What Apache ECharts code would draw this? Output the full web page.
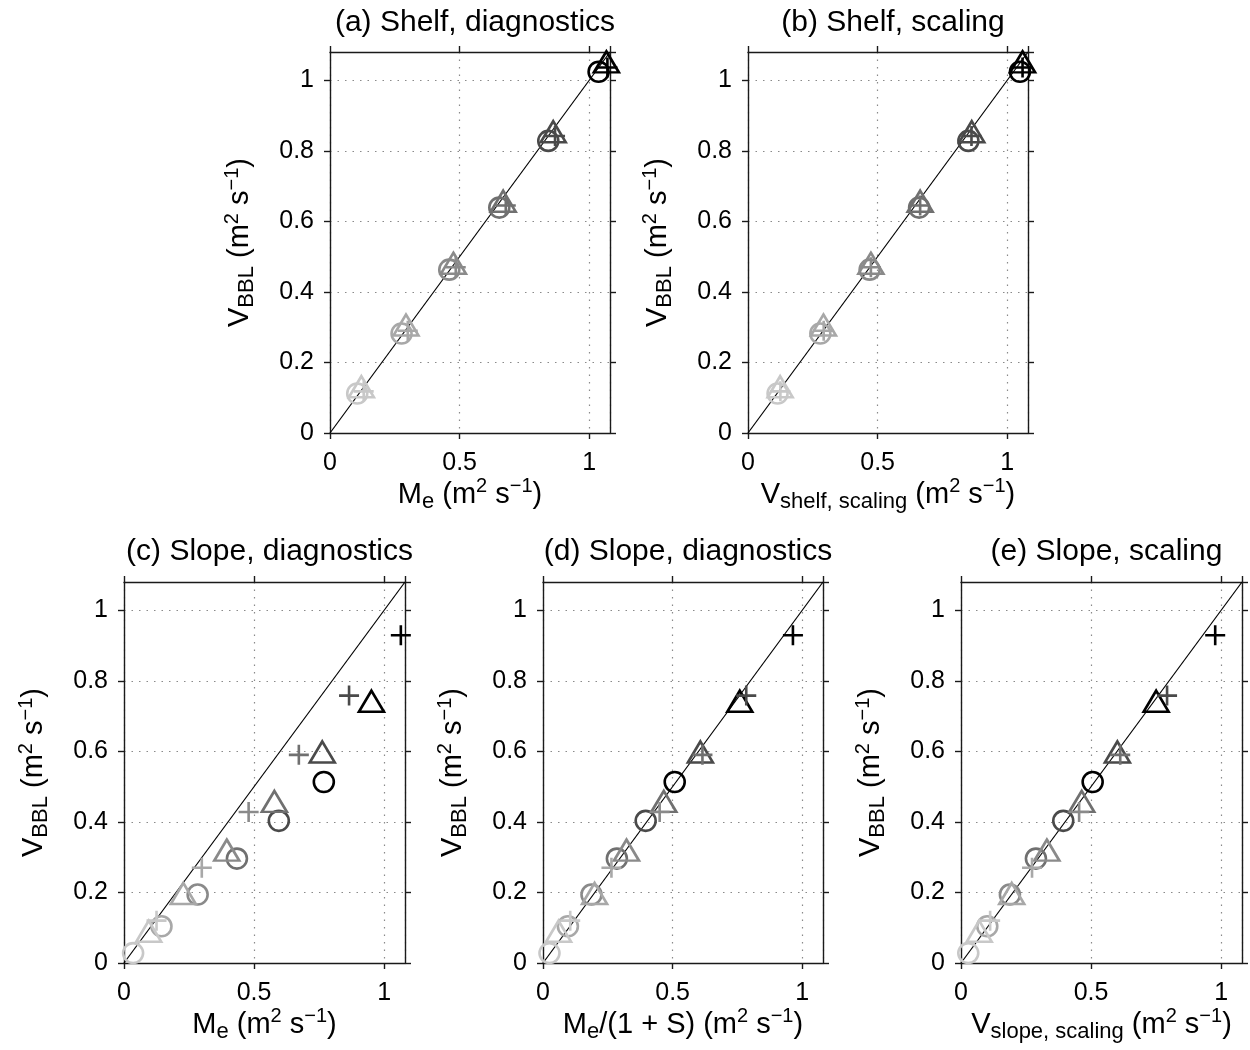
<!DOCTYPE html>
<html>
<head>
<meta charset="utf-8">
<title>V_BBL scatter panels</title>
<script src="https://cdn.jsdelivr.net/npm/echarts@6/dist/echarts.min.js"></script>
<style>
  html, body { margin: 0; padding: 0; background: #fff; }
  #main { width: 1250px; height: 1050px; }
</style>
</head>
<body>
<div id="main"></div>
<script>
// gray level of the six runs (light -> black)
var grays = ['#c8c8c8', '#a8a8a8', '#8a8a8a', '#707070', '#4a4a4a', '#000000'];

// shelf cases: V_BBL (y) for circle / triangle / plus runs
var shelfVbblCircle = [0.112, 0.282, 0.463, 0.639, 0.828, 1.024];
var shelfVbblTri    = [0.131, 0.306, 0.481, 0.657, 0.854, 1.052];
var shelfVbblPlus   = [0.118, 0.290, 0.470, 0.645, 0.842, 1.036];
// (a) x = M_e
var shelfMeCircle = [0.105, 0.276, 0.460, 0.653, 0.842, 1.036];
var shelfMeTri    = [0.121, 0.293, 0.476, 0.668, 0.861, 1.066];
var shelfMePlus   = [0.130, 0.300, 0.485, 0.678, 0.868, 1.070];
// (b) x = V_shelf, scaling
var shelfScCircle = [0.114, 0.279, 0.469, 0.660, 0.850, 1.049];
var shelfScTri    = [0.124, 0.291, 0.474, 0.664, 0.863, 1.059];
var shelfScPlus   = [0.125, 0.292, 0.474, 0.664, 0.862, 1.059];

// slope cases: V_BBL (y)
var slopeVbblCircle = [0.028, 0.104, 0.194, 0.296, 0.403, 0.513];
var slopeVbblTri    = [0.090, 0.197, 0.320, 0.458, 0.598, 0.742];
var slopeVbblPlus   = [0.120, 0.270, 0.428, 0.590, 0.758, 0.929];
// (c) x = M_e
var slopeMeCircle = [0.035, 0.144, 0.283, 0.434, 0.595, 0.768];
var slopeMeTri    = [0.095, 0.228, 0.395, 0.578, 0.762, 0.951];
var slopeMePlus   = [0.125, 0.299, 0.479, 0.672, 0.865, 1.064];
// (d) x = M_e/(1+S)
var slopeMeSCircle = [0.025, 0.096, 0.187, 0.285, 0.396, 0.508];
var slopeMeSTri    = [0.060, 0.199, 0.322, 0.466, 0.607, 0.759];
var slopeMeSPlus   = [0.105, 0.264, 0.450, 0.615, 0.784, 0.964];
// (e) x = V_slope, scaling
var slopeScCircle = [0.028, 0.101, 0.188, 0.288, 0.393, 0.506];
var slopeScTri    = [0.070, 0.195, 0.330, 0.464, 0.601, 0.750];
var slopeScPlus   = [0.112, 0.273, 0.454, 0.612, 0.792, 0.977];

var axisMax = 1.08;
var oneToOne = [[0, 0], [axisMax, axisMax]];

var titles = ['(a) Shelf, diagnostics', '(b) Shelf, scaling', '(c) Slope, diagnostics',
              '(d) Slope, diagnostics', '(e) Slope, scaling'];
var xNames = [
  '{b|M}{s|e}{b| (m}{p|2}{b| s}{p|\u22121}{b|)}',
  '{b|V}{s|shelf, scaling}{b| (m}{p|2}{b| s}{p|\u22121}{b|)}',
  '{b|M}{s|e}{b| (m}{p|2}{b| s}{p|\u22121}{b|)}',
  '{b|M}{s|e}{b|/(1 + S) (m}{p|2}{b| s}{p|\u22121}{b|)}',
  '{b|V}{s|slope, scaling}{b| (m}{p|2}{b| s}{p|\u22121}{b|)}'
];
var yName = '{b|V}{s|BBL}{b| (m}{p|2}{b| s}{p|\u22121}{b|)}';

var panels = [
  { x: [shelfMeCircle, shelfMeTri, shelfMePlus], y: [shelfVbblCircle, shelfVbblTri, shelfVbblPlus] },
  { x: [shelfScCircle, shelfScTri, shelfScPlus], y: [shelfVbblCircle, shelfVbblTri, shelfVbblPlus] },
  { x: [slopeMeCircle, slopeMeTri, slopeMePlus], y: [slopeVbblCircle, slopeVbblTri, slopeVbblPlus] },
  { x: [slopeMeSCircle, slopeMeSTri, slopeMeSPlus], y: [slopeVbblCircle, slopeVbblTri, slopeVbblPlus] },
  { x: [slopeScCircle, slopeScTri, slopeScPlus], y: [slopeVbblCircle, slopeVbblTri, slopeVbblPlus] }
];

var boxes = [
  { left: 330, top: 52, width: 280, height: 381 },
  { left: 748, top: 52, width: 280, height: 381 },
  { left: 124, top: 582, width: 281, height: 381 },
  { left: 543, top: 582, width: 280, height: 381 },
  { left: 961, top: 582, width: 281, height: 381 }
];

var FONT = '"Liberation Sans", Arial, Helvetica, sans-serif';
var rich = {
  b: { fontSize: 29, fontFamily: FONT, color: '#000', lineHeight: 36 },
  s: { fontSize: 22, fontFamily: FONT, color: '#000', lineHeight: 20, verticalAlign: 'bottom' },
  p: { fontSize: 20, fontFamily: FONT, color: '#000', lineHeight: 18, verticalAlign: 'top' }
};

var symbols = ['circle', 'triangle', 'path://M0,10L20,10M10,0L10,20'];
var sizes = [[20, 20], [25, 21], [20, 20]];

var option = {
  backgroundColor: '#fff',
  animation: false,
  title: [], grid: [], xAxis: [], yAxis: [], series: []
};

panels.forEach(function(p, k) {
  var b = boxes[k];
  option.grid.push({ left: b.left, top: b.top, width: b.width, height: b.height });
  option.title.push({
    text: titles[k], left: b.left + b.width / 2, top: k < 2 ? 3 : 532, textAlign: 'center',
    textStyle: { fontSize: 30, fontWeight: 'normal', color: '#000', fontFamily: FONT }
  });

  var lineStyle = { color: '#1a1a1a', width: 1.4 };
  var gridLine = { color: '#8a8a8a', type: [1.5, 6], width: 1.2 };
  // bottom x axis with labels
  option.xAxis.push({
    type: 'value', gridIndex: k, min: 0, max: axisMax, interval: 0.5,
    name: xNames[k], nameLocation: 'middle', nameGap: 34,
    nameTextStyle: { rich: rich },
    axisLine: { onZero: false, lineStyle: lineStyle },
    axisTick: { inside: false, length: 6, lineStyle: lineStyle },
    axisLabel: { fontSize: 25, color: '#000', fontFamily: FONT, margin: 18, showMaxLabel: false },
    splitLine: { show: true, lineStyle: gridLine }
  });
  // top frame
  option.xAxis.push({
    type: 'value', gridIndex: k, position: 'top', min: 0, max: axisMax, interval: 0.5,
    axisLine: { onZero: false, lineStyle: lineStyle },
    axisTick: { inside: false, length: 6, lineStyle: lineStyle },
    axisLabel: { show: false }, splitLine: { show: false }
  });
  option.yAxis.push({
    type: 'value', gridIndex: k, min: 0, max: axisMax, interval: 0.2,
    name: yName, nameLocation: 'middle', nameGap: 72, nameRotate: 90,
    nameTextStyle: { rich: rich },
    axisLine: { onZero: false, lineStyle: lineStyle },
    axisTick: { inside: false, length: 6, lineStyle: lineStyle },
    axisLabel: { fontSize: 25, color: '#000', fontFamily: FONT, margin: 16, showMaxLabel: false },
    splitLine: { show: true, lineStyle: gridLine }
  });
  // right frame
  option.yAxis.push({
    type: 'value', gridIndex: k, position: 'right', min: 0, max: axisMax, interval: 0.2,
    axisLine: { onZero: false, lineStyle: lineStyle },
    axisTick: { inside: false, length: 6, lineStyle: lineStyle },
    axisLabel: { show: false }, splitLine: { show: false }
  });

  var xi = option.xAxis.length - 2, yi = option.yAxis.length - 2;

  option.series.push({
    type: 'line', xAxisIndex: xi, yAxisIndex: yi, data: oneToOne,
    showSymbol: false, silent: true, z: 1,
    lineStyle: { color: '#000', width: 1.2 }
  });

  for (var s = 0; s < 3; s++) {
    var data = p.x[s].map(function(xv, i) {
      return { value: [xv, p.y[s][i]], itemStyle: { borderColor: grays[i] } };
    });
    option.series.push({
      type: 'scatter', xAxisIndex: xi, yAxisIndex: yi, data: data,
      symbol: symbols[s], symbolSize: sizes[s], z: 3,
      itemStyle: { color: 'rgba(0,0,0,0)', borderWidth: 2.6, opacity: 1 },
      emphasis: { disabled: true }
    });
  }
});

var chart = echarts.init(document.getElementById('main'), null, { renderer: 'canvas' });
chart.setOption(option);
</script>
</body>
</html>
